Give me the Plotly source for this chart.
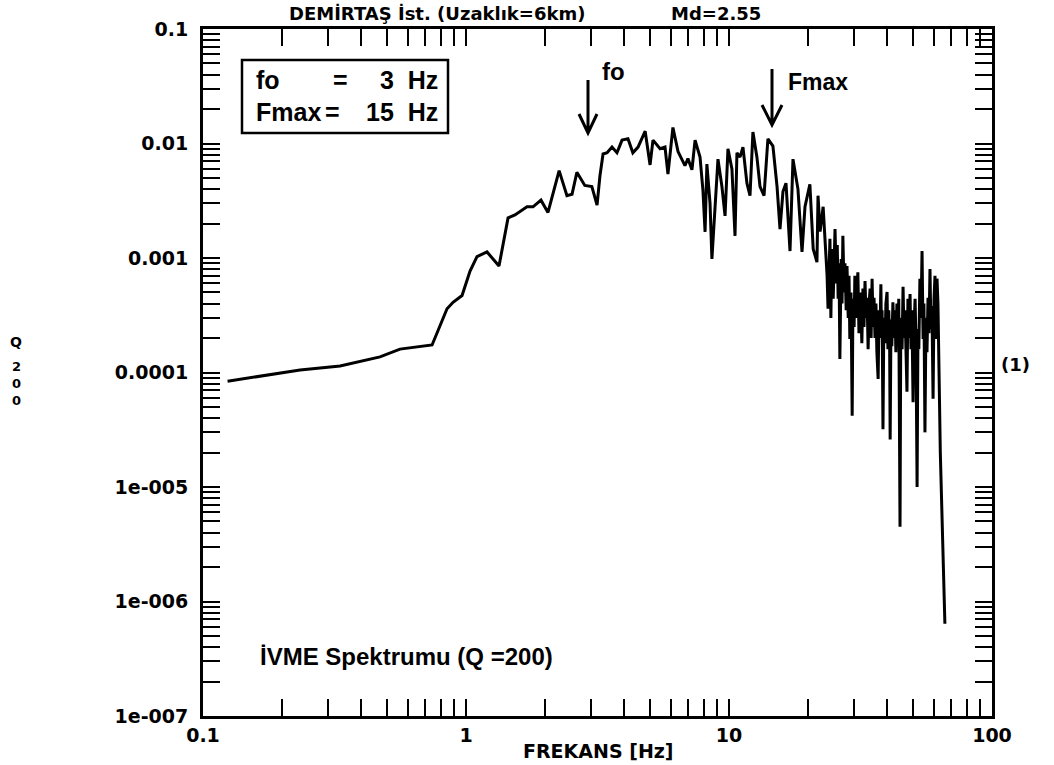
import plotly.graph_objects as go

# ---- data (frequency in Hz, spectral amplitude) ----
freq_hz = [
    0.124, 0.165, 0.234, 0.332, 0.395, 0.471, 0.561, 0.668, 0.743,
    0.847, 0.893, 0.966, 1.036, 1.101, 1.202, 1.335, 1.445, 1.535, 1.706,
    1.798, 1.928, 2.05, 2.26, 2.42, 2.53, 2.64, 2.83, 3.01, 3.15,
    3.23, 3.32, 3.44, 3.59, 3.75, 3.92, 4.13, 4.31, 4.51, 4.80,
    5.01, 5.14, 5.47, 5.71, 5.86, 6.12, 6.40, 6.80, 6.98, 7.23,
    7.43, 7.76,
    7.96, 8.11, 8.24, 8.47, 8.61, 8.85, 9.08, 9.40, 9.66, 9.91,
    10.26, 10.54, 10.72, 11.01, 11.30, 11.70, 12.02, 12.33, 12.77, 13.12,
    13.59, 14.06, 14.69, 15.23, 15.63, 16.04, 16.47, 17.06, 17.51, 18.29,
    18.95, 19.45, 20.3, 20.9, 21.6, 21.8, 22.2, 22.8, 23.6, 23.8,
    24.2, 24.4, 24.6, 24.9, 25.3, 25.6, 25.8, 26.0, 26.2, 26.4,
    26.7, 26.9, 27.1, 27.4, 27.6, 27.9, 28.1, 28.4, 28.6, 28.8,
    29.1, 29.4, 29.6, 29.9, 30.1, 30.4, 30.7, 30.9, 31.2, 31.5,
    31.8, 32.0, 32.3, 32.6, 32.9, 33.2, 33.5, 33.8, 34.1, 34.4,
    34.7, 35.0, 35.3, 35.6, 35.9, 36.2, 36.5, 36.9, 37.2, 37.5,
    37.8, 38.0, 38.2, 38.5, 38.8, 39.2, 39.5, 39.9, 40.2, 40.5,
    40.8, 41.0, 41.3, 41.6, 42.0, 42.4, 42.8, 43.1, 43.5, 43.9,
    44.2, 44.7, 45.0, 45.5, 45.9, 46.3, 46.7, 47.1, 47.5, 47.9,
    48.3, 48.8, 49.2, 49.6, 50.1, 50.5, 51.0, 51.4, 51.9, 52.3,
    52.7, 53.2, 53.7, 54.2, 54.7, 55.1, 55.6, 56.1, 56.6, 57.1,
    57.6, 58.1, 58.6, 59.1, 59.7, 60.2, 60.7, 61.2, 61.8, 62.3,
    63.0, 63.6, 66.2,
]

amplitude = [
    8.4e-5, 9.3e-5, 1.05e-4, 1.14e-4, 1.24e-4, 1.37e-4, 1.6e-4, 1.68e-4, 1.74e-4,
    3.6e-4, 4.1e-4, 4.7e-4, 7.7e-4, 1.03e-3, 1.13e-3, 8.5e-4, 2.24e-3, 2.38e-3, 2.8e-3,
    2.8e-3, 3.2e-3, 2.5e-3, 5.8e-3, 3.5e-3, 3.6e-3, 5.6e-3, 4.3e-3, 4.2e-3, 2.9e-3,
    5.2e-3, 8.1e-3, 8.3e-3, 9.3e-3, 8.3e-3, 1.07e-2, 1.1e-2, 8.3e-3, 9.3e-3, 1.28e-2,
    6.5e-3, 1.07e-2, 9.0e-3, 9.3e-3, 5.4e-3, 1.38e-2, 8.5e-3, 6.4e-3, 7.4e-3, 5.9e-3,
    1.07e-2, 7.6e-3,
    3.9e-3, 1.69e-3, 6.6e-3, 3.0e-3, 9.8e-4, 3.0e-3, 7.3e-3, 4.2e-3, 2.33e-3, 9.0e-3,
    6.0e-3, 1.56e-3, 8.3e-3, 7.6e-3, 9.3e-3, 4.5e-3, 3.5e-3, 1.26e-2, 7.6e-3, 4.2e-3,
    3.5e-3, 1.1e-2, 9.5e-3, 4.2e-3, 1.79e-3, 3.8e-3, 4.5e-3, 1.15e-3, 7.3e-3, 4.0e-3,
    1.13e-3, 2.8e-3, 4.4e-3, 1.2e-3, 9.2e-4, 3.5e-3, 1.7e-3, 2.8e-3, 7.0e-4, 3.6e-4,
    1.47e-3, 3.0e-4, 1.2e-3, 4.4e-4, 1.79e-3, 6.0e-4, 1.3e-3, 4.4e-4, 9.0e-4, 1.31e-4,
    9.8e-4, 4.0e-4, 1.56e-3, 5.0e-4, 9.0e-4, 3.5e-4, 8.5e-4, 3.0e-4, 7.0e-4, 1.96e-4,
    5.0e-4, 4.2e-5, 4.4e-4, 2.5e-4, 7.0e-4, 3.0e-4, 6.0e-4, 7.5e-4, 2.2e-4, 5.0e-4,
    3.0e-4, 1.8e-4, 5.4e-4, 2.5e-4, 6.3e-4, 3.0e-4, 4.5e-4, 1.6e-4, 4.0e-4, 5.4e-4,
    2.0e-4, 6.6e-4, 2.5e-4, 4.5e-4, 2.0e-4, 4.0e-4, 1.5e-4, 8.8e-5, 3.5e-4, 2.2e-4,
    5.9e-4, 2.0e-4, 3.5e-4, 3.2e-5, 3.0e-4, 1.8e-4, 4.0e-4, 5.05e-4, 1.6e-4, 3.5e-4,
    2.0e-4, 2.6e-5, 2.9e-4, 1.7e-4, 4.1e-4, 2.0e-4, 3.5e-4, 1.5e-4, 4.0e-4, 1.8e-4,
    4.4e-4, 4.5e-6, 3.0e-4, 1.6e-4, 5.6e-4, 2.0e-4, 3.5e-4, 1.4e-4, 6.8e-5, 4.4e-4,
    2.0e-4, 4.85e-4, 1.6e-4, 3.5e-4, 5.5e-5, 2.4e-4, 4.4e-4, 1.8e-4, 1.0e-5, 2.4e-4,
    1.6e-4, 6.6e-4, 3.0e-4, 1.15e-3, 1.96e-4, 4.0e-4, 3.0e-5, 3.0e-4, 1.5e-4, 4.5e-4,
    2.2e-4, 8.0e-4, 2.4e-4, 3.8e-4, 5.9e-5, 4.4e-4, 7.0e-4, 1.96e-4, 6.6e-4, 4.0e-4,
    6.0e-5, 2.0e-5, 6.4e-7,
]
assert len(freq_hz) == len(amplitude)

x_decades = [0.1, 1, 10, 100]
x_decade_labels = ["0.1", "1", "10", "100"]
y_decades = [1e-7, 1e-6, 1e-5, 1e-4, 1e-3, 1e-2, 1e-1]
y_decade_labels = ["1e-007", "1e-006", "1e-005", "0.0001", "0.001", "0.01", "0.1"]

title_left = "DEMİRTAŞ İst. (Uzaklık=6km)"
title_right = "Md=2.55"
x_title = "FREKANS [Hz]"
y_side_label = ("Q", "2<br>0<br>0")
right_label = "(1)"
box_line1 = ("fo", "=", "3  Hz")
box_line2 = ("Fmax", "=", "15  Hz")
inner_label = "İVME Spektrumu (Q =200)"


def log_ticks(decades, labels):
    vals, texts = [], []
    for d, lab in zip(decades[:-1], labels[:-1]):
        for m in range(1, 10):
            vals.append(m * d)
            texts.append(lab if m == 1 else "")
    vals.append(decades[-1])
    texts.append(labels[-1])
    return vals, texts


xv, xt = log_ticks(x_decades, x_decade_labels)
yv, yt = log_ticks(y_decades, y_decade_labels)

fig = go.Figure()
fig.add_trace(go.Scatter(
    x=freq_hz, y=amplitude, mode="lines",
    line=dict(color="black", width=3),
    showlegend=False, hoverinfo="x+y",
))

tickfont = dict(family="DejaVu Sans", size=19, color="black", weight="bold")
axis_common = dict(
    type="log", ticks="inside", ticklen=17, tickwidth=2, tickcolor="black",
    showline=True, linewidth=3, linecolor="black", mirror="allticks",
    showgrid=False, zeroline=False, tickfont=tickfont,
)

fig.update_layout(
    width=1054, height=765,
    margin=dict(l=203, r=62, t=29, b=49),
    paper_bgcolor="white", plot_bgcolor="white",
    xaxis=dict(range=[-1, 2], tickvals=xv, ticktext=xt, ticklabelstandoff=0, **axis_common),
    yaxis=dict(range=[-7, -1], tickvals=yv, ticktext=yt, ticklabelstandoff=8, **axis_common),
)

def px_x(px):
    return (px - 203) / 789.0

def px_y(py):
    return (716 - py) / 687.0

ann = []
bold_dv = dict(family="DejaVu Sans", color="black", weight="bold")
ann.append(dict(text=title_left, x=px_x(437), y=px_y(13), font=dict(size=18, **bold_dv)))
ann.append(dict(text=title_right, x=px_x(716), y=px_y(13), font=dict(size=18, **bold_dv)))
ann.append(dict(text=x_title, x=px_x(598), y=px_y(751), font=dict(size=19, **bold_dv)))
ann.append(dict(text=y_side_label[0], x=px_x(16), y=px_y(342), font=dict(size=14, **bold_dv)))
ann.append(dict(text=y_side_label[1], x=px_x(16), y=px_y(383), font=dict(size=13, **bold_dv)))
ann.append(dict(text=right_label, x=px_x(1015), y=px_y(364), font=dict(size=18, **bold_dv)))

arial = dict(family="Liberation Sans", color="black", weight="bold")
ann.append(dict(text=box_line1[0], x=px_x(254), y=px_y(80), xanchor="left", font=dict(size=25, **arial)))
ann.append(dict(text=box_line1[1], x=px_x(340), y=px_y(80), font=dict(size=25, **arial)))
ann.append(dict(text=box_line1[2], x=px_x(440), y=px_y(80), xanchor="right", font=dict(size=25, **arial)))
ann.append(dict(text=box_line2[0], x=px_x(254), y=px_y(112), xanchor="left", font=dict(size=25, **arial)))
ann.append(dict(text=box_line2[1], x=px_x(332), y=px_y(112), font=dict(size=25, **arial)))
ann.append(dict(text=box_line2[2], x=px_x(440), y=px_y(112), xanchor="right", font=dict(size=25, **arial)))
ann.append(dict(text="fo", x=px_x(600), y=px_y(72), xanchor="left", font=dict(size=24, **arial)))
ann.append(dict(text="Fmax", x=px_x(786), y=px_y(82), xanchor="left", font=dict(size=23, **arial)))
ann.append(dict(text=inner_label, x=px_x(258), y=px_y(656), xanchor="left", font=dict(size=24, **arial)))

for a in ann:
    a.update(xref="paper", yref="paper", showarrow=False)
    a.setdefault("xanchor", "center")
    a["yanchor"] = "middle"
fig.update_layout(annotations=ann)

shapes = []
shapes.append(dict(type="rect", xref="paper", yref="paper",
                   x0=px_x(242), x1=px_x(448), y0=px_y(133), y1=px_y(60),
                   line=dict(color="black", width=2.5)))

def arrow_path(xc, ytop, ytip, half, ybarb):
    return (f"M {px_x(xc)},{px_y(ytop)} L {px_x(xc)},{px_y(ytip)} "
            f"M {px_x(xc - half)},{px_y(ybarb)} L {px_x(xc)},{px_y(ytip)} "
            f"L {px_x(xc + half)},{px_y(ybarb)}")

shapes.append(dict(type="path", xref="paper", yref="paper",
                   path=arrow_path(588, 80, 133, 9, 114), line=dict(color="black", width=3)))
shapes.append(dict(type="path", xref="paper", yref="paper",
                   path=arrow_path(772, 69, 125, 10, 105), line=dict(color="black", width=3)))
fig.update_layout(shapes=shapes)

fig.write_html("out.html")
